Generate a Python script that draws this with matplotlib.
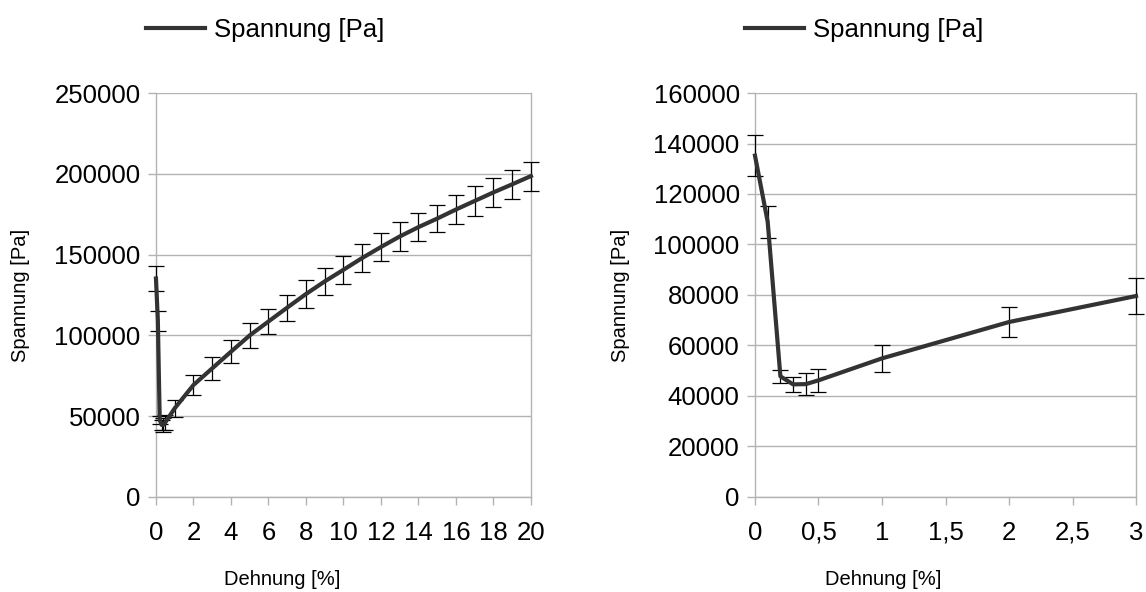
import matplotlib
matplotlib.use("Agg")
import matplotlib.pyplot as plt
import matplotlib.ticker as ticker

plt.rcParams['font.family'] = ['Liberation Sans', 'DejaVu Sans']

# Dehnung [%] und Spannung [Pa] (Mittelwert) mit Standardabweichung
dehnung = [0, 0.1, 0.2, 0.3, 0.4, 0.5, 1, 2, 3, 4, 5, 6, 7, 8, 9, 10,
           11, 12, 13, 14, 15, 16, 17, 18, 19, 20]
spannung = [135200, 109000, 47800, 44600, 44700, 46200, 54900, 69300, 79600,
            89900, 100000, 108600, 117200, 125600, 133400, 140600,
            147900, 154700, 161200, 167000, 172300, 177900, 183200, 188500,
            193500, 198600]
fehler = [8000, 6300, 2500, 3000, 4400, 4500, 5400, 6100, 7000,
          7200, 7500, 7900, 8100, 8400, 8600, 8700,
          8800, 8600, 8900, 8700, 8400, 8800, 9300, 9000, 9000, 9000]

linien_farbe = '#333333'
gitter_farbe = '#b3b3b3'

fig = plt.figure(figsize=(11.46, 5.92), dpi=100)
ax1 = fig.add_axes([0.1361, 0.1605, 0.3272, 0.6824])
ax2 = fig.add_axes([0.6588, 0.1605, 0.3325, 0.6824])


def zeichne(ax, xmax, ymax, ystep, xticks, xlabels, legend_x, xlab_x, ylab_x):
    n = len([d for d in dehnung if d <= xmax])
    xs = dehnung[:n]
    ys = spannung[:n]
    es = fehler[:n]
    ax.errorbar(xs, ys, yerr=es, fmt='none', ecolor='black', elinewidth=0.9,
                capsize=6, capthick=0.9, zorder=3, clip_on=False)
    linie, = ax.plot(xs, ys, color=linien_farbe, lw=3, label='Spannung [Pa]',
                     zorder=4, clip_on=False, solid_joinstyle='round')
    ax.set_xlim(0, xmax)
    ax.set_ylim(0, ymax)
    ax.set_xticks(xticks)
    ax.set_xticklabels(xlabels)
    ax.yaxis.set_major_locator(ticker.MultipleLocator(ystep))
    ax.yaxis.set_major_formatter(ticker.FuncFormatter(lambda v, p: '%d' % v))
    ax.grid(True, axis='y', color=gitter_farbe, lw=1)
    ax.set_axisbelow(True)
    for s in ['left', 'right', 'bottom']:
        ax.spines[s].set_color(gitter_farbe)
        ax.spines[s].set_linewidth(1)
    ax.spines['top'].set_visible(False)
    ax.tick_params(direction='out', length=6, width=1, color=gitter_farbe,
                   labelsize=18.5)
    ax.tick_params(axis='x', pad=11)
    ax.tick_params(axis='y', pad=5)
    ax.set_xlabel('Dehnung [%]', fontsize=14.5)
    ax.set_ylabel('Spannung [Pa]', fontsize=14.5)
    ax.xaxis.set_label_coords(xlab_x, -0.181)
    ax.yaxis.set_label_coords(ylab_x, 0.5)
    ax.legend(handles=[linie], loc='center left', frameon=False,
              bbox_to_anchor=(legend_x, 0.949), bbox_transform=fig.transFigure,
              fontsize=18.5, handlelength=2.3, handletextpad=0.35, borderpad=0,
              borderaxespad=0)


zeichne(ax1, 20, 250000, 50000, list(range(0, 21, 2)),
        [str(v) for v in range(0, 21, 2)], 0.1275, 0.336, -0.336)
zeichne(ax2, 3, 160000, 20000, [0, 0.5, 1, 1.5, 2, 2.5, 3],
        ['0', '0,5', '1', '1,5', '2', '2,5', '3'], 0.650, 0.336, -0.328)

fig.savefig('out.png', dpi=100)
